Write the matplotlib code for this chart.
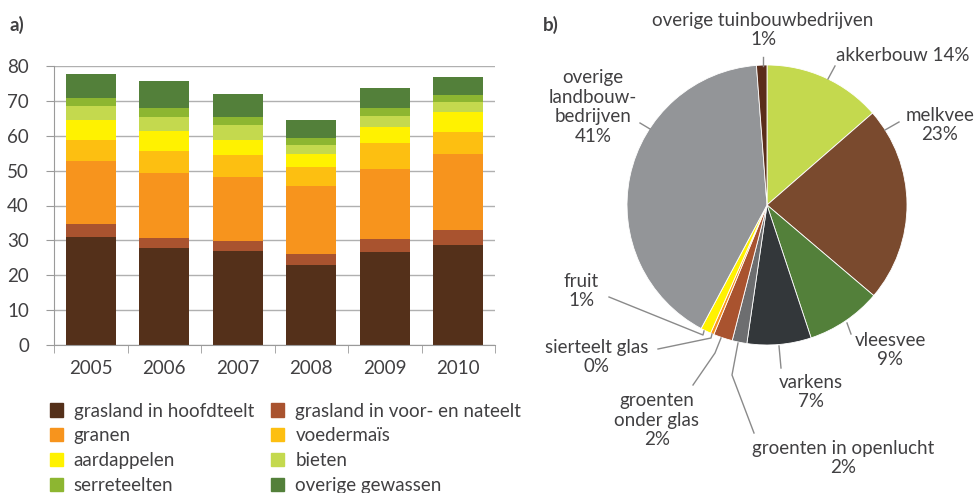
import numpy as np
import matplotlib
matplotlib.use('Agg')
import matplotlib.pyplot as plt
from matplotlib.patches import Patch

plt.rcParams['font.family'] = ['Lato', 'DejaVu Sans']
plt.rcParams['text.color'] = '#414042'

# --- data: bar chart a) ---
years = ['2005', '2006', '2007', '2008', '2009', '2010']
crops = ['grasland in hoofdteelt', 'grasland in voor- en nateelt', 'granen',
         'voedermaïs', 'aardappelen', 'bieten', 'serreteelten', 'overige gewassen']
hoofdteelt = [31.0, 27.9, 27.0, 23.0, 26.7, 28.7]
voor_nateelt = [3.7, 2.8, 2.9, 3.2, 3.8, 4.3]
granen = [18.1, 18.7, 18.3, 19.4, 20.0, 21.8]
voedermais = [6.0, 6.3, 6.3, 5.5, 7.4, 6.3]
aardappelen = [5.7, 5.7, 4.3, 3.7, 4.6, 5.7]
bieten = [4.0, 4.0, 4.3, 2.6, 3.2, 2.9]
serreteelten = [2.3, 2.6, 2.3, 2.0, 2.3, 2.0]
overige = [6.9, 7.7, 6.6, 5.1, 5.7, 5.1]
bar_colors = ['#54301a', '#a9532f', '#f7941d', '#fdbf11',
              '#fff200', '#c4d94e', '#8db631', '#53803a']

# --- data: pie chart b) ---
sectors = ['akkerbouw', 'melkvee', 'vleesvee', 'varkens', 'groenten in openlucht',
           'groenten onder glas', 'sierteelt glas', 'fruit',
           'overige landbouwbedrijven', 'overige tuinbouwbedrijven']
shares = [13.6, 22.6, 8.7, 7.4, 1.7, 2.2, 0.4, 1.2, 41.0, 1.2]
pie_colors = ['#c4d94e', '#7a4a2e', '#53803a', '#33373a', '#6d6e70',
              '#a9532f', '#f7941d', '#fff200', '#939598', '#5a2d1a']

W, H = 975, 493
fig = plt.figure(figsize=(W / 100, H / 100), dpi=100)

# ---------- a) stacked bars ----------
ax = fig.add_axes([54 / W, 1 - 345 / H, 441 / W, 279 / H])
series = [hoofdteelt, voor_nateelt, granen, voedermais, aardappelen,
          bieten, serreteelten, overige]
x = np.arange(len(years))
bottom = np.zeros(len(years))
handles = []
for vals, col, name in zip(series, bar_colors, crops):
    ax.bar(x, vals, 0.68, bottom=bottom, color=col, label=name)
    bottom += np.array(vals)
    handles.append(Patch(color=col, label=name))

ax.set_xlim(-0.5, len(years) - 0.5)
ax.set_ylim(0, 80)
ax.set_yticks(range(0, 81, 10))
ax.yaxis.grid(True, color='#b0b0b0', lw=1)
ax.set_axisbelow(True)
ax.set_xticks(x)
ax.set_xticklabels(years)
ax.set_xticks(np.arange(-0.5, len(years)), minor=True)
ax.tick_params(axis='x', which='major', length=0, pad=11, labelsize=13.5, colors='#414042')
ax.tick_params(axis='x', which='minor', length=6, color='#9a9a9a')
ax.tick_params(axis='y', length=6, color='#9a9a9a', labelsize=13.5, labelcolor='#414042', pad=12)
for s in ['top', 'right']:
    ax.spines[s].set_visible(False)
ax.spines['left'].set_color('#9a9a9a')
ax.spines['bottom'].set_color('#9a9a9a')

fig.text(10 / W, 1 - 25 / H, 'a)', fontsize=13.5, fontweight='bold', va='center')
fig.text(543 / W, 1 - 25 / H, 'b)', fontsize=13.5, fontweight='bold', va='center')

# legend laid out row-wise in two columns
order = [0, 2, 4, 6, 1, 3, 5, 7]
fig.legend([handles[i] for i in order], [crops[i] for i in order], ncol=2,
           loc='upper left', bbox_to_anchor=(42 / W, 1 - 395 / H), frameon=False,
           fontsize=13.5, handlelength=0.7, handleheight=0.7, handletextpad=0.6,
           columnspacing=0.9, labelspacing=0.42, borderaxespad=0)

# ---------- b) pie ----------
cx, cy, r = 767, 205, 140
pax = fig.add_axes([530 / W, 0, 445 / W, 1])
pax.pie(shares, colors=pie_colors, startangle=90, counterclock=False, radius=1,
        wedgeprops=dict(edgecolor='white', linewidth=0.6))
pax.set_xlim((530 - cx) / r, (975 - cx) / r)
pax.set_ylim((cy - 493) / r, cy / r)
pax.set_aspect('auto')


def P(px, py):
    return (px - cx) / r, (cy - py) / r


labels = [
    ('overige tuinbouwbedrijven\n1%', (763, 30), [(763, 57), (763, 66)]),
    ('akkerbouw 14%', (903, 55), [(835, 66), (828, 79)]),
    ('melkvee\n23%', (940, 125), [(899, 122), (885, 130)]),
    ('overige\nlandbouw-\nbedrijven\n41%', (593, 107), [(640, 123), (650, 129)]),
    ('vleesvee\n9%', (890, 350), [(847, 323), (851, 334)]),
    ('varkens\n7%', (811, 392), [(779, 346), (781, 368)]),
    ('groenten in openlucht\n2%', (843, 458), [(738, 343), (732, 375), (754, 433)]),
    ('groenten\nonder glas\n2%', (657, 420), [(721, 338), (715, 353), (693, 385)]),
    ('sierteelt glas\n0%', (597, 357), [(712, 334), (711, 338), (658, 349)]),
    ('fruit\n1%', (581, 291), [(704, 331), (703, 335), (609, 297)]),
]
for text, pos, line in labels:
    tx, ty = P(*pos)
    pax.text(tx, ty, text, ha='center', va='center', fontsize=13.5, linespacing=1.2)
    pts = np.array([P(*p) for p in line])
    pax.plot(pts[:, 0], pts[:, 1], color='#8a8a8a', lw=1, clip_on=False)

fig.savefig('out.png', dpi=100)
